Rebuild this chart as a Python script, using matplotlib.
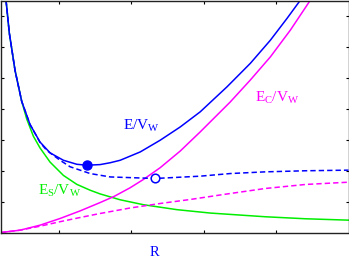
import matplotlib
matplotlib.use('Agg')
import matplotlib.pyplot as plt

# values (arbitrary units, R on x)
r_es = [0.269, 0.315, 0.394, 0.486, 0.555, 0.647, 0.739, 0.878, 1.062, 1.247, 1.431,
        1.569, 1.846, 2.168, 2.630, 3.091, 3.851, 4.405, 5.0]
es = [7.53, 6.46, 5.25, 4.25, 3.68, 3.12, 2.74, 2.28, 1.85, 1.56, 1.37,
      1.25, 1.06, 0.90, 0.74, 0.63, 0.51, 0.445, 0.40]

r_ec = [0.2, 0.463, 0.739, 1.016, 1.293, 1.569, 1.763, 1.984, 2.168, 2.399, 2.676,
        2.952, 3.367, 3.644, 3.921, 4.198, 4.474]
ec = [0.0, 0.075, 0.237, 0.454, 0.70, 0.97, 1.17, 1.45, 1.72, 2.10, 2.64,
      3.26, 4.23, 4.94, 5.69, 6.56, 7.53]

r_ec2 = [0.2, 0.463, 0.739, 1.016, 1.293, 1.569, 1.984, 2.399, 2.814, 3.298, 3.851,
         4.405, 5.0]
ec2 = [0.0, 0.075, 0.204, 0.35, 0.486, 0.616, 0.794, 0.94, 1.07, 1.24, 1.426,
       1.556, 1.63]

r_e = [0.269, 0.315, 0.394, 0.486, 0.601, 0.739, 0.878, 1.062, 1.247, 1.385, 1.569,
       1.708, 1.846, 2.123, 2.399, 2.676, 2.952, 3.322, 3.644, 3.921, 4.152, 4.336]
e = [7.53, 6.46, 5.25, 4.25, 3.50, 2.93, 2.58, 2.34, 2.21, 2.18, 2.20,
     2.26, 2.34, 2.61, 2.99, 3.42, 3.91, 4.72, 5.48, 6.23, 6.94, 7.53]

r_e2 = [0.269, 0.315, 0.394, 0.486, 0.601, 0.739, 0.832, 1.016, 1.154, 1.431, 1.708,
        2.33, 2.952, 3.367, 3.851, 4.405, 5.0]
e2 = [7.53, 6.46, 5.25, 4.25, 3.50, 2.92, 2.66, 2.34, 2.13, 1.91, 1.80,
      1.75, 1.825, 1.91, 1.965, 2.0, 2.02]

e_min = (1.385, 2.18)
e2_min = (2.33, 1.75)

plt.rcParams['font.family'] = ['Liberation Serif', 'DejaVu Serif']
plt.rcParams['mathtext.fontset'] = 'custom'
plt.rcParams['mathtext.rm'] = 'Liberation Serif'
plt.rcParams['mathtext.default'] = 'regular'

fig = plt.figure(figsize=(3.49, 2.62), dpi=100)
ax = fig.add_axes([1 / 349, 1 - 232.5 / 262, 347.5 / 349, 231.5 / 262])

lw = 1.1
ax.plot(r_es, es, color='#00ee00', linewidth=lw)
ax.plot(r_ec, ec, color='#ff00ff', linewidth=lw)
ax.plot(r_ec2, ec2, color='#ff00ff', linewidth=lw, dashes=(3.5, 2))
ax.plot(r_e2, e2, color='#0000ff', linewidth=lw, dashes=(3.5, 2))
ax.plot(r_e, e, color='#0000ff', linewidth=lw)

ax.plot(*e_min, 'o', color='#0000ff', markersize=6.5)
ax.plot(*e2_min, 'o', markerfacecolor='white', markeredgecolor='#0000ff',
        markeredgewidth=1.1, markersize=6.2)

ax.text(2.14, 3.45, r'E/V$_W$', color='#0000ff', fontsize=11, ha='center', va='center')
ax.text(4.02, 4.36, r'E$_C$/V$_W$', color='#ff00ff', fontsize=11, ha='center', va='center')
ax.text(1.01, 1.35, r'E$_S$/V$_W$', color='#00ee00', fontsize=11, ha='center', va='center')
fig.text(154 / 349, 1 - 252 / 262, 'R', color='#0000ff', fontsize=10.5, ha='center', va='center')

ax.set_xlim(0.2, 5.0)
ax.set_ylim(0, 7.5)
ax.set_xticks([1, 2, 3, 4])
ax.set_yticks([1, 2, 3, 4, 5, 6, 7])
ax.tick_params(direction='in', top=True, right=True, length=2.5, width=0.8,
               labelbottom=False, labelleft=False)
for s in ax.spines.values():
    s.set_linewidth(1.0)
    s.set_color('#222222')

fig.savefig('out.png', dpi=100)
